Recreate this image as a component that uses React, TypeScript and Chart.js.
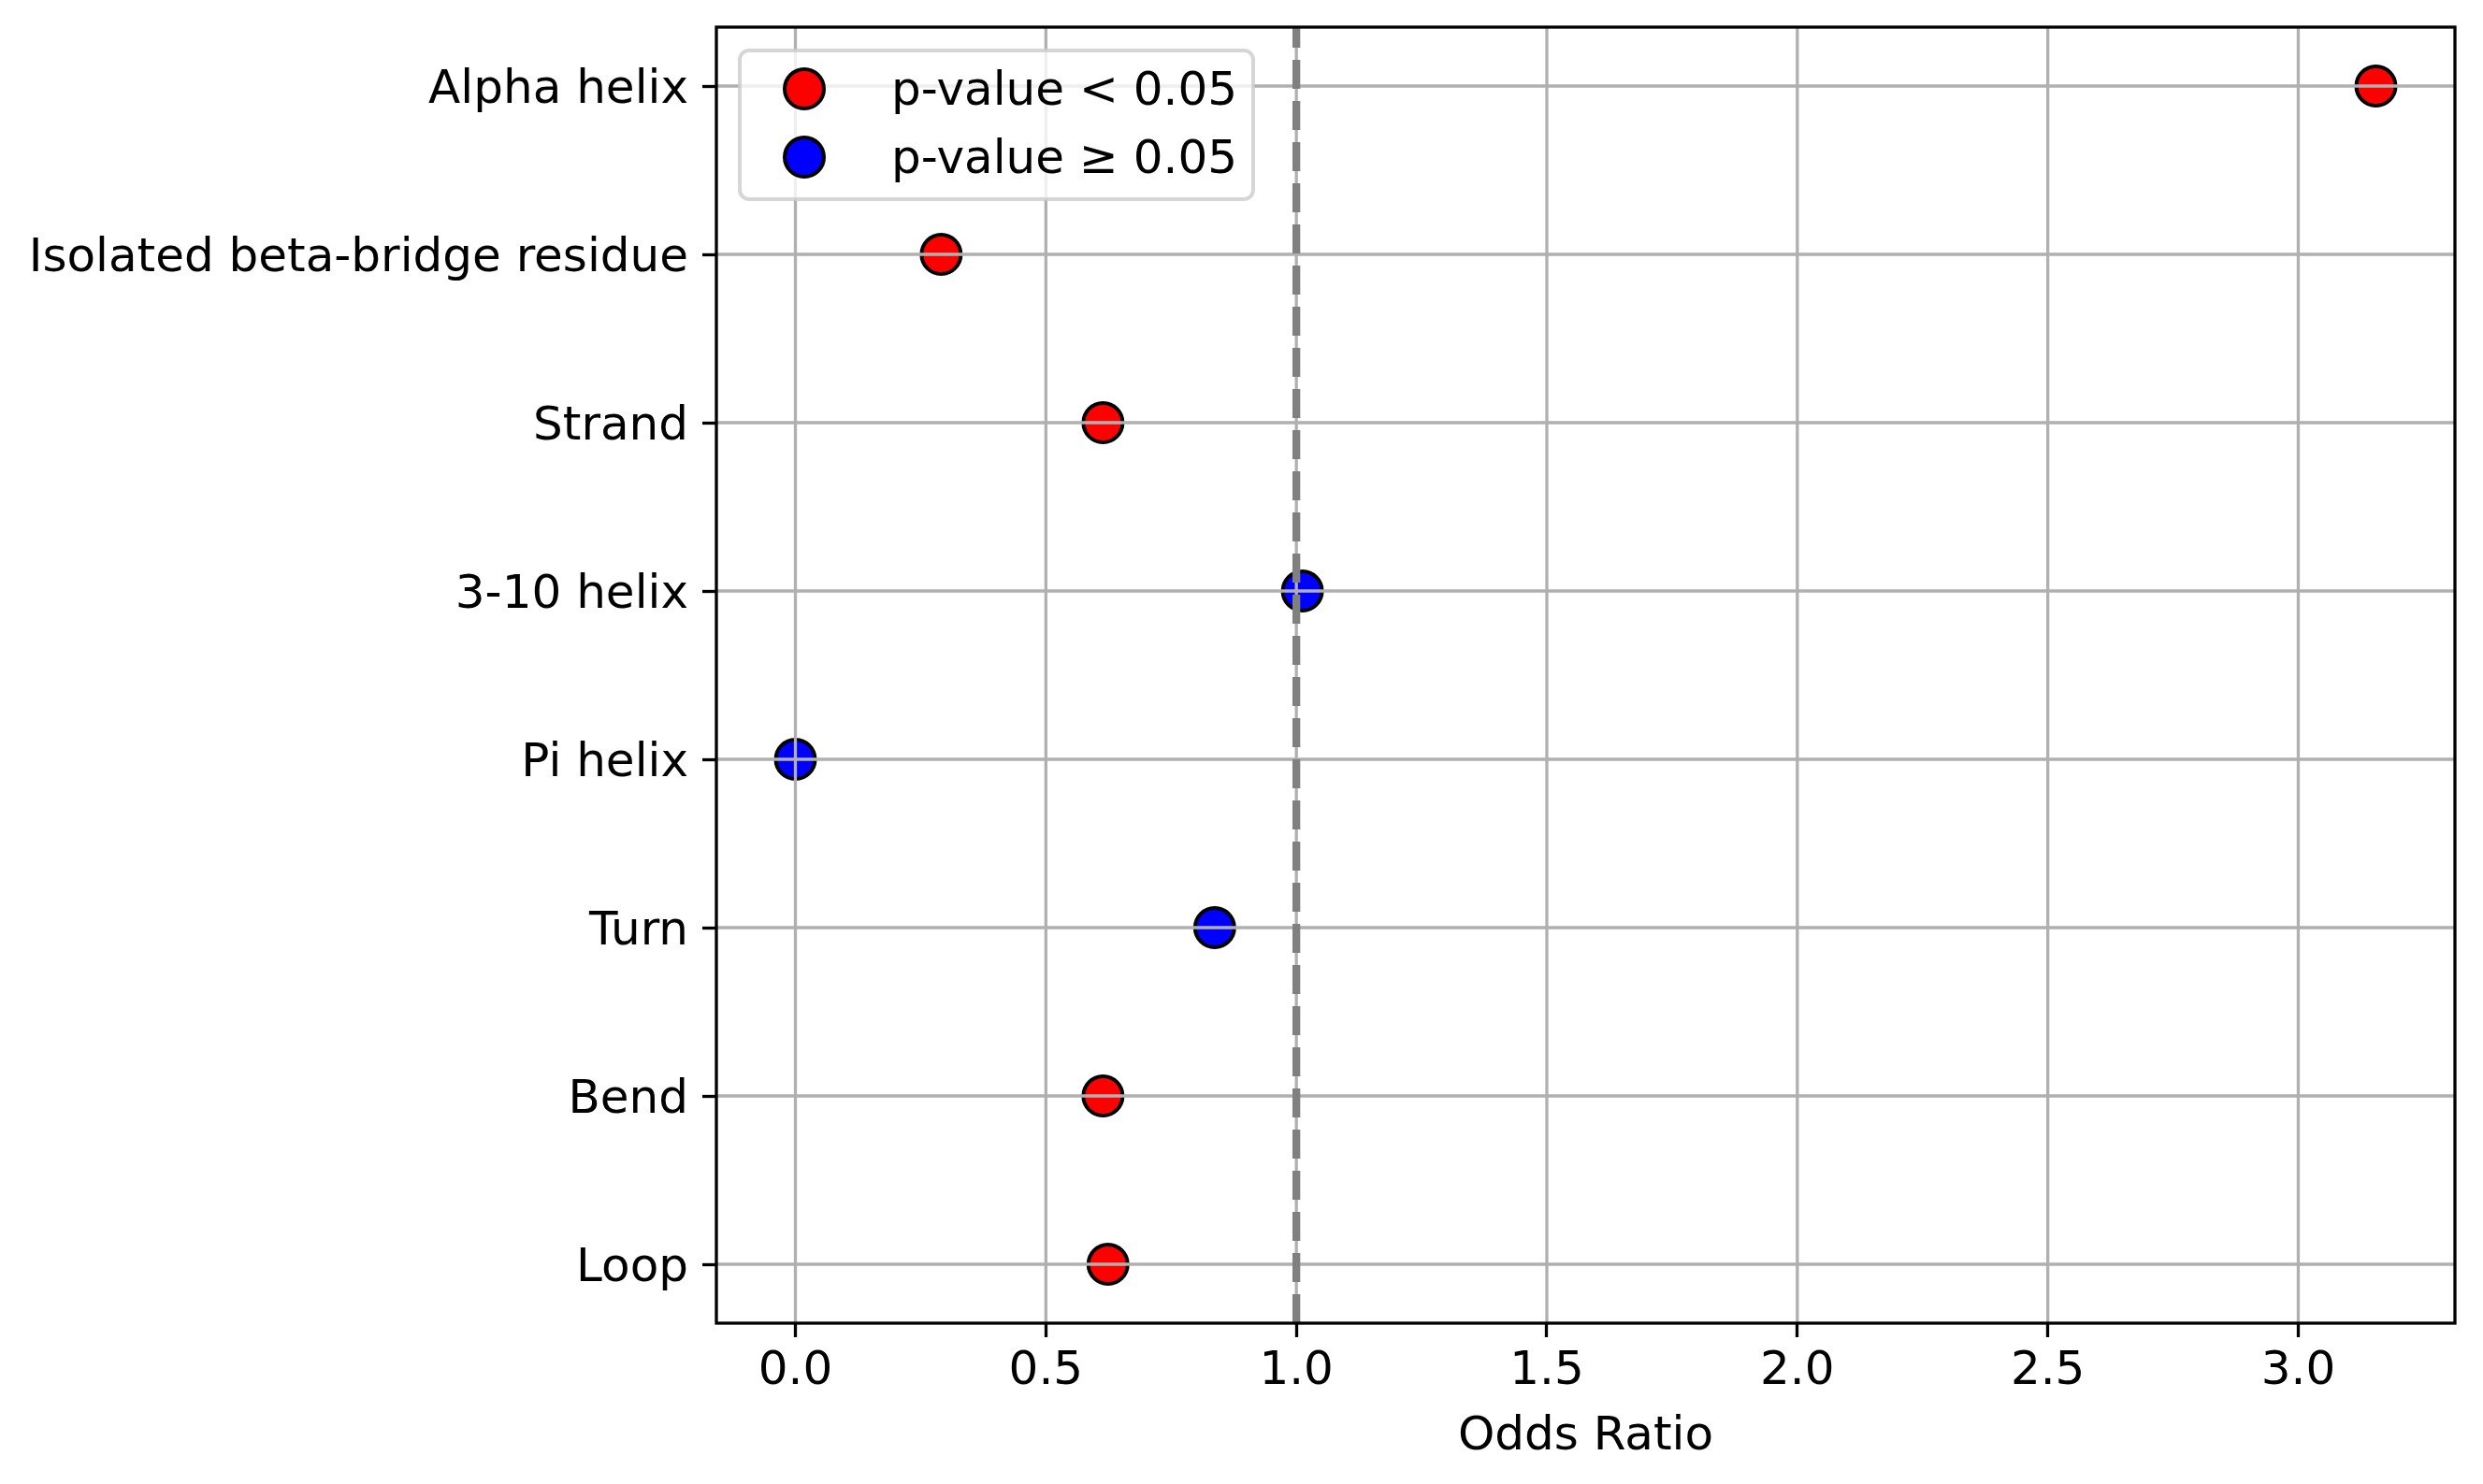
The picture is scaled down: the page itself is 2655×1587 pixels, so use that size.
import { useEffect, useRef } from 'react'
import { Chart, registerables } from 'chart.js'

Chart.register(...registerables)

// secondary structure classes, top to bottom
const categories = [
  'Alpha helix',
  'Isolated beta-bridge residue',
  'Strand',
  '3-10 helix',
  'Pi helix',
  'Turn',
  'Bend',
  'Loop',
]
const oddsRatios = [3.155, 0.291, 0.614, 1.012, 0.0, 0.837, 0.614, 0.624]
const significant = [true, true, true, false, false, false, true, true]
const xTicks = [0, 0.5, 1.0, 1.5, 2.0, 2.5, 3.0]
const legendLabels = ['p-value < 0.05', 'p-value ≥ 0.05']
const referenceLine = 1.0

const FONT = 'DejaVu Sans'
const REF_INDEX = 2

// matplotlib style 5% auto margins
const xLo = Math.min(...oddsRatios)
const xHi = Math.max(...oddsRatios)
const xPad = (xHi - xLo) * 0.05
const yPad = (categories.length - 1) * 0.05

function drawGrid(chart: any) {
  const { ctx, chartArea: a, scales } = chart
  ctx.save()
  ctx.strokeStyle = '#b0b0b0'
  ctx.lineWidth = 3.3
  ctx.beginPath()
  scales.x.ticks.forEach((t: any) => {
    const px = scales.x.getPixelForValue(t.value)
    ctx.moveTo(px, a.top)
    ctx.lineTo(px, a.bottom)
  })
  scales.y.ticks.forEach((t: any) => {
    const py = scales.y.getPixelForValue(t.value)
    ctx.moveTo(a.left, py)
    ctx.lineTo(a.right, py)
  })
  ctx.stroke()
  ctx.restore()
}

const overlay = {
  id: 'overlay',
  // grid goes above the markers but under the dashed reference line
  beforeDatasetDraw(chart: any, args: any) {
    if (args.index === REF_INDEX) drawGrid(chart)
  },
  afterDatasetsDraw(chart: any) {
    const { ctx, chartArea: a } = chart
    ctx.save()

    // spines
    ctx.strokeStyle = '#000'
    ctx.lineWidth = 3.3
    ctx.strokeRect(a.left, a.top, a.right - a.left, a.bottom - a.top)

    // legend box, upper left
    const lx = a.left + 25
    const ly = a.top + 25
    ctx.beginPath()
    ctx.roundRect(lx, ly, 549, 159, 10)
    ctx.fillStyle = 'rgba(255,255,255,0.8)'
    ctx.fill()
    ctx.strokeStyle = 'rgba(204,204,204,0.8)'
    ctx.lineWidth = 4
    ctx.stroke()

    ctx.font = `50px "${FONT}"`
    ctx.textBaseline = 'middle'
    ctx.textAlign = 'left'
    legendLabels.forEach((label, i) => {
      const ds = chart.data.datasets[i]
      const cy = ly + 41 + i * 73
      ctx.beginPath()
      ctx.arc(lx + 69, cy, 21, 0, Math.PI * 2)
      ctx.fillStyle = ds.backgroundColor
      ctx.fill()
      ctx.strokeStyle = '#000'
      ctx.lineWidth = 4
      ctx.stroke()
      ctx.fillStyle = '#000'
      ctx.fillText(label, lx + 162, cy + 4)
    })

    ctx.restore()
  },
}

function OddsChart() {
  const ref = useRef<HTMLCanvasElement>(null)

  useEffect(() => {
    if (!ref.current) return
    const context = ref.current.getContext('2d')
    if (!context) return

    const points = (flag: boolean) =>
      oddsRatios
        .map((v, i) => ({ x: v, y: i, keep: significant[i] === flag }))
        .filter((p) => p.keep)
        .map((p) => ({ x: p.x, y: p.y }))

    const yMin = -yPad
    const yMax = categories.length - 1 + yPad

    const tickFont = { family: FONT, size: 50 }

    const chart = new Chart(context, {
      type: 'scatter',
      data: {
        datasets: [
          {
            label: legendLabels[0],
            data: points(true),
            backgroundColor: '#ff0000',
            borderColor: '#000',
            pointRadius: 21,
            pointBorderWidth: 4,
            order: 1,
          },
          {
            label: legendLabels[1],
            data: points(false),
            backgroundColor: '#0000ff',
            borderColor: '#000',
            pointRadius: 21,
            pointBorderWidth: 4,
            order: 1,
          },
          {
            label: 'reference',
            data: [
              { x: referenceLine, y: yMax },
              { x: referenceLine, y: yMin },
            ],
            showLine: true,
            borderColor: '#808080',
            borderWidth: 8.3,
            borderDash: [31, 13],
            pointRadius: 0,
            order: 0,
          },
        ],
      },
      options: {
        animation: false,
        responsive: false,
        events: [],
        layout: { padding: { top: 29, right: 30, left: 0, bottom: 0 } },
        scales: {
          x: {
            type: 'linear',
            min: xLo - xPad,
            max: xHi + xPad,
            afterBuildTicks: (s: any) => {
              s.ticks = xTicks.map((v) => ({ value: v }))
            },
            afterFit: (s: any) => {
              s.height = 172
              s.paddingLeft = 0
              s.paddingRight = 0
            },
            ticks: {
              callback: (v: any) => Number(v).toFixed(1),
              font: tickFont,
              color: '#000',
              padding: 7,
              maxRotation: 0,
              autoSkip: false,
            },
            grid: {
              drawOnChartArea: false,
              tickLength: 15,
              tickColor: '#000',
              tickWidth: 3.3,
            },
            border: { display: false },
            title: {
              display: true,
              text: 'Odds Ratio',
              font: tickFont,
              color: '#000',
              padding: { top: 0, bottom: 20 },
            },
          },
          y: {
            type: 'linear',
            reverse: true,
            min: yMin,
            max: yMax,
            afterBuildTicks: (s: any) => {
              s.ticks = categories.map((_, i) => ({ value: i }))
            },
            afterFit: (s: any) => {
              s.width = 766
              s.paddingTop = 0
              s.paddingBottom = 0
            },
            ticks: {
              callback: (v: any) => categories[v],
              font: tickFont,
              color: '#000',
              padding: 15,
              labelOffset: 5,
              autoSkip: false,
            },
            grid: {
              drawOnChartArea: false,
              tickLength: 15,
              tickColor: '#000',
              tickWidth: 3.3,
            },
            border: { display: false },
          },
        },
        plugins: {
          legend: { display: false },
          tooltip: { enabled: false },
        },
      },
      plugins: [overlay],
    })

    return () => chart.destroy()
  }, [])

  return <canvas ref={ref} width={2655} height={1587}></canvas>
}

export default function App() {
  return (
    <div style={{ position: 'absolute', left: 0, top: 0, width: 2655, height: 1587, background: '#fff' }}>
      <OddsChart />
    </div>
  )
}
